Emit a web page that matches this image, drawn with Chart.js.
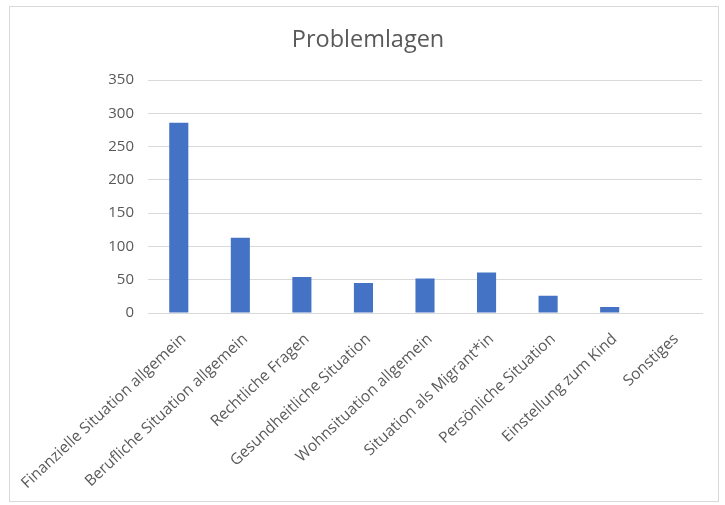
<!DOCTYPE html>
<html>
<head>
<meta charset="utf-8">
<script src="https://cdn.jsdelivr.net/npm/chart.js@4.4.1/dist/chart.umd.min.js"></script>
<style>
  html, body { margin: 0; padding: 0; background: #ffffff; }
  #wrap { position: relative; width: 725px; height: 505px; }
  #frame { position: absolute; left: 9px; top: 6px; width: 710px; height: 496px; border: 1px solid #d9d9d9; box-sizing: border-box; pointer-events: none; }
  canvas { position: absolute; left: 0; top: 0; }
</style>
</head>
<body>
<div id="wrap">
  <canvas id="c" width="725" height="505"></canvas>
  <div id="frame"></div>
</div>
<script>
const chartTitle = "Problemlagen";
const categories = [
  "Finanzielle Situation allgemein",
  "Berufliche Situation allgemein",
  "Rechtliche Fragen",
  "Gesundheitliche Situation",
  "Wohnsituation allgemein",
  "Situation als Migrant*in",
  "Persönliche Situation",
  "Einstellung zum Kind",
  "Sonstiges"
];
const values = [286, 113, 54, 45, 52, 61, 26, 9, 0];
const yTicks = [0, 50, 100, 150, 200, 250, 300, 350];

const PAD = { left: 34, right: 23, top: 10, bottom: 8 };
const AREA = { left: 148, bottom: 313 };
const FONT = "'Open Sans', 'Liberation Sans', sans-serif";

new Chart(document.getElementById('c'), {
  type: 'bar',
  data: {
    labels: categories,
    datasets: [{
      data: values,
      backgroundColor: '#4472C4',
      borderWidth: 0,
      categoryPercentage: 1.0,
      barPercentage: 0.31
    }]
  },
  options: {
    responsive: false,
    animation: false,
    devicePixelRatio: 1,
    layout: { padding: PAD },
    plugins: {
      legend: { display: false },
      tooltip: { enabled: false },
      title: {
        display: true,
        text: chartTitle,
        color: '#595959',
        font: { family: FONT, size: 23.5, weight: 'normal' },
        padding: { top: 16, bottom: 26 }
      }
    },
    scales: {
      x: {
        grid: { display: false, drawTicks: false },
        border: { display: true, color: '#d9d9d9', width: 1 },
        ticks: {
          color: '#595959',
          font: { family: FONT, size: 15.5 },
          minRotation: 43,
          maxRotation: 43,
          autoSkip: false,
          padding: 17,
          labelOffset: 5
        },
        afterFit: (s) => {
          s.height = 505 - AREA.bottom - PAD.bottom;
          s.paddingLeft = 0;
          s.paddingRight = 0;
        }
      },
      y: {
        min: 0,
        max: 350,
        afterBuildTicks: (s) => { s.ticks = yTicks.map(v => ({ value: v })); },
        grid: { color: '#d9d9d9', drawTicks: false },
        border: { display: false },
        ticks: {
          color: '#595959',
          font: { family: FONT, size: 15 },
          padding: 14
        },
        afterFit: (s) => { s.width = AREA.left - PAD.left; }
      }
    }
  }
});
</script>
</body>
</html>
